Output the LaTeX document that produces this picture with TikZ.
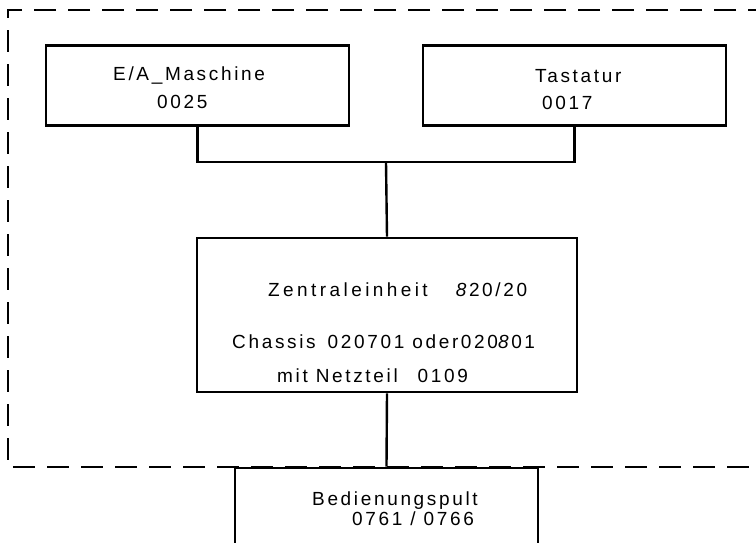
\documentclass[tikz,border=0pt]{standalone}
\usepackage{fontspec}
\setmainfont{Liberation Sans}[LetterSpace=14]
\begin{document}
\begin{tikzpicture}[x=1pt,y=-1pt,
  unit/.style={draw,line width=2.8pt,inner sep=0pt,fill=white},
  wire/.style={line width=2.4pt},
  frame/.style={line width=1.5pt,dash pattern=on 22pt off 12pt},
  lbl/.style={anchor=base west,inner sep=0pt,font=\fontsize{19}{22}\selectfont}]
  \useasboundingbox (0,0) rectangle (756,542);
  \clip (0,0) rectangle (756,542);

  % dashed enclosure (right side runs past the page)
  \draw[frame] (770,10) -- (8,10) -- (8,467) -- (770,467);

  % units
  \node[unit,minimum width=303pt,minimum height=80pt] (ea)   at (197.5,85.5) {};
  \node[unit,minimum width=303pt,minimum height=80pt] (tast) at (574.5,85.5) {};
  \node[unit,minimum width=380pt,minimum height=154pt] (zen) at (387,315) {};
  \node[unit,minimum width=303pt,minimum height=132pt] (bed) at (386.5,534) {};

  % wiring
  \coordinate (bus) at (386,162);
  \draw[wire] (ea.south) |- (bus) -| (tast.south);
  \draw[wire] (bus) -- (zen.north);
  \draw[wire] (zen.south) -- (bed.north);

  % labels
  \node[lbl] (t1) at (113,80)  {E/A\_Maschine};
  \node[lbl] (t2) at (157,108) {0025};
  \node[lbl] (t3) at (535,82)  {Tastatur};
  \node[lbl] (t4) at (542,109) {0017};
  \node[lbl] (t5) at (268,296) {{\addfontfeature{LetterSpace=18}Zentraleinheit}\hspace{28pt}\textit{8}20/20};
  \node[lbl] (t6) at (232,348) {Chassis\hspace{12pt}020701 oder020\textit{8}01};
  \node[lbl] (t7) at (277,382) {mit Netzteil\hspace{20pt}0109};
  \node[lbl] (t8) at (312,505) {Bedienungspult};
  \node[lbl] (t9) at (352,525) {0761 / 0766};
\end{tikzpicture}
\end{document}
